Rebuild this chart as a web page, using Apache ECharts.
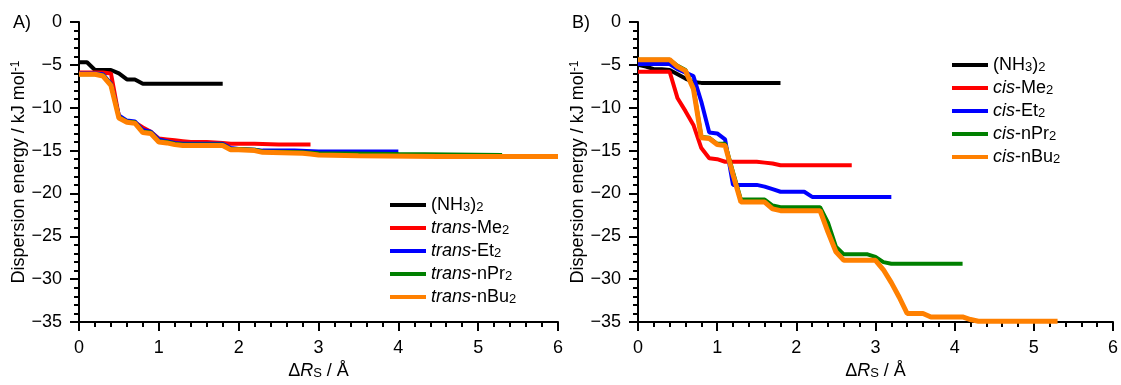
<!DOCTYPE html>
<html><head><meta charset="utf-8">
<script src="https://cdn.jsdelivr.net/npm/echarts@6/dist/echarts.min.js"></script>
<style>html,body{margin:0;padding:0;background:#fff}#c{width:1121px;height:385px}</style>
</head><body><div id="c"></div>
<script>
// ---- Panel A data (ΔRS in Å, dispersion energy in kJ/mol) ----
const nh3A = [[0,-4.7],[0.1,-4.7],[0.2,-5.6],[0.3,-5.6],[0.4,-5.6],[0.5,-6.0],[0.6,-6.7],[0.7,-6.7],[0.8,-7.2],[0.9,-7.2],[1.0,-7.2],[1.2,-7.2],[1.4,-7.2],[1.6,-7.2],[1.8,-7.2]];
const transMe2 = [[0,-5.9],[0.1,-5.9],[0.2,-5.9],[0.3,-5.9],[0.4,-6.0],[0.5,-11.0],[0.6,-11.6],[0.7,-11.7],[0.8,-12.3],[0.9,-12.8],[1.0,-13.6],[1.1,-13.7],[1.2,-13.8],[1.3,-13.9],[1.4,-14.0],[1.6,-14.0],[1.8,-14.1],[1.9,-14.2],[2.2,-14.2],[2.5,-14.3],[2.9,-14.3]];
const transEt2 = [[0,-6.0],[0.1,-6.0],[0.2,-6.0],[0.3,-6.1],[0.4,-7.2],[0.5,-10.9],[0.6,-11.5],[0.7,-11.6],[0.8,-12.6],[0.9,-12.8],[1.0,-13.7],[1.1,-13.9],[1.2,-14.1],[1.3,-14.2],[1.8,-14.2],[1.9,-14.7],[2.0,-14.8],[2.2,-14.9],[2.3,-15.0],[2.7,-15.0],[3.0,-15.1],[4.0,-15.1]];
const transNPr2 = [[0,-6.1],[0.1,-6.1],[0.2,-6.1],[0.3,-6.2],[0.4,-7.3],[0.5,-11.1],[0.6,-11.6],[0.7,-11.7],[0.8,-12.8],[0.9,-12.9],[1.0,-13.9],[1.1,-14.0],[1.2,-14.2],[1.3,-14.3],[1.8,-14.3],[1.9,-14.8],[2.0,-14.8],[2.2,-14.9],[2.3,-15.1],[2.8,-15.2],[3.0,-15.3],[4.0,-15.4],[5.3,-15.5]];
const transNBu2 = [[0,-6.1],[0.1,-6.1],[0.2,-6.1],[0.3,-6.3],[0.4,-7.4],[0.5,-11.2],[0.6,-11.7],[0.7,-11.8],[0.8,-12.9],[0.9,-13.0],[1.0,-14.0],[1.1,-14.1],[1.2,-14.3],[1.3,-14.4],[1.8,-14.4],[1.9,-14.9],[2.0,-14.9],[2.2,-15.0],[2.3,-15.2],[2.8,-15.3],[2.9,-15.4],[3.0,-15.5],[3.5,-15.6],[4.5,-15.7],[6.0,-15.7]];
// ---- Panel B data ----
const nh3B = [[0,-5.0],[0.1,-5.2],[0.2,-5.5],[0.3,-5.5],[0.4,-5.6],[0.5,-6.1],[0.6,-6.6],[0.7,-7.0],[0.8,-7.1],[1.0,-7.1],[1.4,-7.1],[1.8,-7.1]];
const cisMe2 = [[0,-5.8],[0.1,-5.8],[0.2,-5.8],[0.3,-5.8],[0.4,-5.8],[0.5,-8.9],[0.6,-10.4],[0.7,-12.0],[0.8,-14.7],[0.9,-15.9],[1.0,-16.0],[1.1,-16.3],[1.2,-16.3],[1.5,-16.3],[1.6,-16.4],[1.7,-16.5],[1.8,-16.7],[2.2,-16.7],[2.7,-16.7]];
const cisEt2 = [[0,-4.9],[0.1,-4.9],[0.2,-4.9],[0.3,-4.9],[0.4,-4.9],[0.5,-5.5],[0.6,-5.9],[0.7,-6.3],[0.8,-9.3],[0.9,-12.9],[1.0,-13.0],[1.1,-13.7],[1.2,-19.0],[1.3,-19.0],[1.5,-19.0],[1.6,-19.2],[1.7,-19.5],[1.8,-19.8],[2.1,-19.8],[2.2,-20.4],[2.5,-20.4],[3.2,-20.4]];
const cisNPr2 = [[0,-4.4],[0.1,-4.4],[0.2,-4.4],[0.3,-4.4],[0.4,-4.4],[0.5,-5.1],[0.6,-5.6],[0.7,-7.7],[0.8,-13.4],[0.9,-13.5],[1.0,-14.2],[1.1,-14.2],[1.2,-17.5],[1.3,-20.7],[1.6,-20.7],[1.7,-21.4],[1.8,-21.6],[2.3,-21.6],[2.4,-23.4],[2.5,-26.2],[2.6,-27.1],[2.9,-27.1],[3.0,-27.4],[3.1,-28.0],[3.2,-28.2],[4.1,-28.2]];
const cisNBu2 = [[0,-4.4],[0.1,-4.4],[0.2,-4.4],[0.3,-4.4],[0.4,-4.4],[0.5,-5.2],[0.6,-5.7],[0.7,-7.8],[0.8,-13.5],[0.9,-13.6],[1.0,-14.3],[1.1,-14.4],[1.2,-17.8],[1.3,-21.0],[1.6,-21.0],[1.7,-21.8],[1.8,-22.0],[2.3,-22.0],[2.4,-24.5],[2.5,-26.8],[2.6,-27.8],[3.0,-27.8],[3.1,-28.9],[3.2,-30.4],[3.3,-32.1],[3.4,-34.0],[3.6,-34.0],[3.7,-34.4],[4.1,-34.4],[4.2,-34.7],[4.3,-34.9],[5.3,-34.9]];

const xTicks = {min: 0, max: 6, interval: 1};
const yTicks = {min: -35, max: 0, interval: 5};

const legendA = ['nh3A','transMe2','transEt2','transNPr2','transNBu2'];
const legendB = ['nh3B','cisMe2','cisEt2','cisNPr2','cisNBu2'];
const labels = {
  nh3A:'{n|(NH}{s|3}{n|)}{s|2}', nh3B:'{n|(NH}{s|3}{n|)}{s|2}',
  transMe2:'{i|trans}{n|-Me}{s|2}', transEt2:'{i|trans}{n|-Et}{s|2}',
  transNPr2:'{i|trans}{n|-nPr}{s|2}', transNBu2:'{i|trans}{n|-nBu}{s|2}',
  cisMe2:'{i|cis}{n|-Me}{s|2}', cisEt2:'{i|cis}{n|-Et}{s|2}',
  cisNPr2:'{i|cis}{n|-nPr}{s|2}', cisNBu2:'{i|cis}{n|-nBu}{s|2}'
};
const colors = ['#000000','#ff0000','#0000ff','#008000','#ff8000'];

const FONT = '"Liberation Sans", Arial, sans-serif';
const rich = {
  n:{fontFamily:FONT,fontSize:18,color:'#000',lineHeight:18},
  i:{fontFamily:FONT,fontSize:18,color:'#000',fontStyle:'italic',lineHeight:18},
  s:{fontFamily:FONT,fontSize:13,color:'#000',lineHeight:7,verticalAlign:'bottom'},
  p:{fontFamily:FONT,fontSize:12,color:'#000',lineHeight:7,verticalAlign:'top'}
};

function xAxis(g){
  return {type:'value', gridIndex:g, min:xTicks.min, max:xTicks.max, interval:xTicks.interval,
    axisLine:{show:true,onZero:false,lineStyle:{color:'#000',width:2}},
    axisTick:{show:true,inside:false,length:9,lineStyle:{color:'#000',width:2}},
    minorTick:{show:true,splitNumber:5,length:5,lineStyle:{color:'#000',width:2}},
    splitLine:{show:false}, minorSplitLine:{show:false},
    axisLabel:{fontFamily:FONT,fontSize:18,color:'#000',margin:17},
    name:'{n|Δ}{i|R}{s|S}{n| / Å}', nameLocation:'middle', nameGap:33,
    nameTextStyle:{rich:rich}};
}
function yAxis(g){
  return {type:'value', gridIndex:g, min:yTicks.min, max:yTicks.max, interval:yTicks.interval,
    axisLine:{show:true,onZero:false,lineStyle:{color:'#000',width:2}},
    axisTick:{show:true,inside:false,length:9,lineStyle:{color:'#000',width:2}},
    minorTick:{show:true,splitNumber:5,length:5,lineStyle:{color:'#000',width:2}},
    splitLine:{show:false}, minorSplitLine:{show:false},
    axisLabel:{fontFamily:FONT,fontSize:18,color:'#000',margin:17,
      formatter:v=>String(v).replace('-','\u2212')},
    name:'{n|Dispersion energy / kJ mol}{p|-1}', nameLocation:'middle', nameGap:47, nameRotate:90,
    nameTextStyle:{rich:rich}};
}
function series(name, data, g, k){
  return {type:'line', name:name, data:data, xAxisIndex:g, yAxisIndex:g,
    showSymbol:false, symbol:'none',
    lineStyle:{width:k===4?5:4,color:colors[k]}, itemStyle:{color:colors[k]}};
}
function legend(data,left,top){
  return {orient:'vertical', left:left, top:top, padding:0, itemWidth:36, itemHeight:4, itemGap:5,
    icon:'rect', data:data, selectedMode:false, formatter:n=>labels[n],
    textStyle:{fontFamily:FONT,fontSize:18,color:'#000',rich:rich}};
}

const chart = echarts.init(document.getElementById('c'), null, {renderer:'canvas'});
chart.setOption({
  animation:false,
  title:[
    {text:'A)', left:13, top:14, padding:0, textStyle:{fontFamily:FONT,fontSize:18,fontWeight:'normal',color:'#000'}},
    {text:'B)', left:572, top:14, padding:0, textStyle:{fontFamily:FONT,fontSize:18,fontWeight:'normal',color:'#000'}}
  ],
  grid:[
    {left:79, top:22, width:479, height:315},
    {left:638, top:22, width:479, height:315}
  ],
  xAxis:[xAxis(0), xAxis(1)],
  yAxis:[yAxis(0), yAxis(1)],
  legend:[legend(legendA,390,196), legend(legendB,952,56)],
  series:[
    series('nh3A',nh3A,0,0), series('transMe2',transMe2,0,1), series('transEt2',transEt2,0,2),
    series('transNPr2',transNPr2,0,3), series('transNBu2',transNBu2,0,4),
    series('nh3B',nh3B,1,0), series('cisMe2',cisMe2,1,1), series('cisEt2',cisEt2,1,2),
    series('cisNPr2',cisNPr2,1,3), series('cisNBu2',cisNBu2,1,4)
  ]
});
</script></body></html>
